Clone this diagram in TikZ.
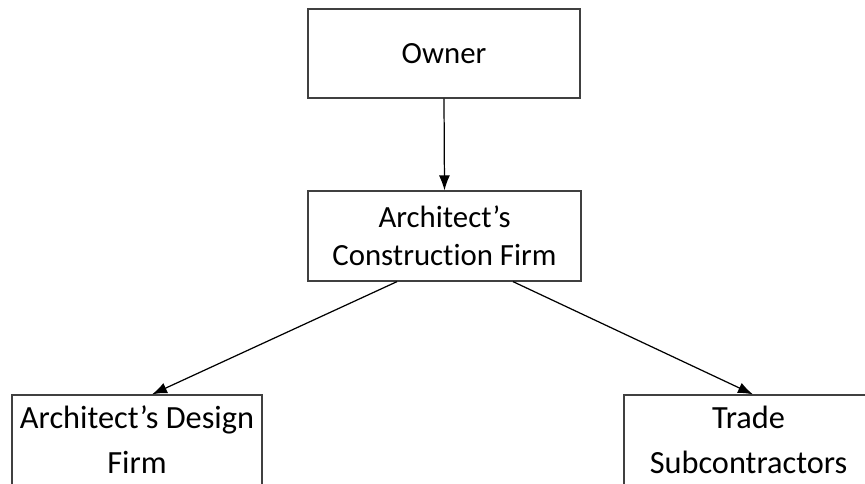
\documentclass[tikz,border=0pt]{standalone}
\usepackage{fontspec}
\setmainfont{Carlito}[Ligatures=NoCommon]
\usepackage{tikz}
\usetikzlibrary{
    arrows.meta,
    positioning
}
\tikzset{
    firm/.style={draw=black!75, line width=1.05pt, inner sep=0pt, align=center,
        font=\fontsize{26.3}{32.4}\selectfont},
    subfirm/.style={firm, font=\fontsize{27.6}{38.3}\selectfont},
    flow/.style={-{Latex[length=0.45cm,width=0.33cm]}, line width=1.05pt}
}

\begin{document}
\begin{tikzpicture}
    \clip (0, 0) rectangle (25.95, -14.52);
    \useasboundingbox (0, 0) rectangle (25.95, -14.52);
    \node[firm, minimum width=8.16cm, minimum height=2.67cm] (own) at (13.32, -1.605) {Owner};
    \node[firm, minimum width=8.19cm, minimum height=2.7cm] (acf) at (13.335, -7.08) {Architect’s\\Construction Firm};
    \node[subfirm, minimum width=7.5cm, minimum height=2.7cm] (adf) at (4.11, -13.2) {Architect’s Design\\Firm};
    \node[subfirm, minimum width=7.47cm, minimum height=2.7cm] (tsc) at (22.455, -13.2) {Trade\\Subcontractors};
    \draw
    (own.south) edge[flow] (acf.north)
    ([xshift=-1.425cm]acf.south) edge[flow] ([xshift=0.45cm]adf.north)
    ([xshift=2.055cm]acf.south) edge[flow] ([xshift=0.135cm]tsc.north);
\end{tikzpicture}
\end{document}
